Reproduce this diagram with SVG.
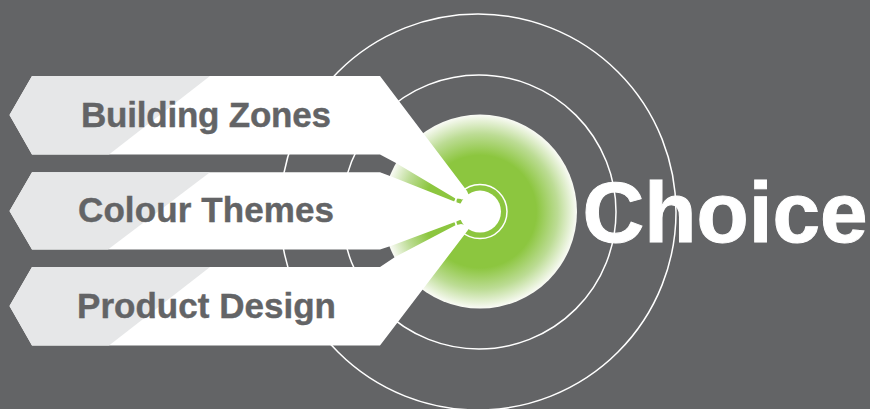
<svg xmlns="http://www.w3.org/2000/svg" width="870" height="409" viewBox="0 0 870 409">
<style>
.ring{fill:none;stroke:#fff;stroke-width:1.5}
.w{fill:#fff}
.l{fill:#e6e7e8}
text{font-family:"Liberation Sans",Arial,sans-serif;font-weight:700}
.lab{font-size:35px;fill:#636466;stroke:#636466;stroke-width:0.4;text-anchor:middle}
</style>
<defs>
<radialGradient id="g" cx="0.5" cy="0.5" r="0.5">
<stop offset="0" stop-color="#8cc63f"/>
<stop offset="0.58" stop-color="#8cc63f"/>
<stop offset="0.8" stop-color="#bcdc94"/>
<stop offset="1" stop-color="#fafbf6"/>
</radialGradient>
</defs>
<rect width="870" height="409" fill="#636466"/>
<g id="rings">
<circle class="ring" cx="478" cy="212" r="198"/>
<circle class="ring" cx="479" cy="212" r="137"/>
</g>
<g id="hub">
<circle cx="480" cy="211.6" r="97" fill="url(#g)"/>
<circle cx="480" cy="211.6" r="27" fill="none" stroke="#fff" stroke-width="1.5"/>
<circle class="w" cx="480" cy="211.6" r="21"/>
</g>
<g id="connectors">
<polygon class="w" points="455.2,198 456.3,197.8 456.6,202.5 455.4,202.5"/>
<polygon class="w" points="455.2,220 456.3,220 456.6,226 455.4,226"/>
</g>
<g id="building-zones">
<polygon class="w" points="32,76 380,76 467,191 470,198 461.5,199.5 461,199 455,198.3 396,163 380,154.5 32,154.5 9.5,115"/>
<polygon class="l" points="32,76 210,76 109,154.5 32,154.5 9.5,115"/>
<text class="lab" x="206" y="127" textLength="250">Building Zones</text>
</g>
<g id="colour-themes">
<polygon class="w" points="32,172.3 380,172.3 390,176 455,201.7 460,203.5 475,205 475,218 460,220 455,222 390.7,246 380,249.5 32,249.5 9.5,211"/>
<polygon class="l" points="32,172.3 210,172.3 108,249.5 32,249.5 9.5,211"/>
<text class="lab" x="206" y="221.5" textLength="256">Colour Themes</text>
</g>
<g id="product-design">
<polygon class="w" points="32,267 380,267 395,257 455,225.5 461,224 470,226 468,230 380,345.5 32,345.5 9.5,306"/>
<polygon class="l" points="32,267 210,267 109,345.5 32,345.5 9.5,306"/>
<text class="lab" x="206.5" y="317.5" textLength="259">Product Design</text>
</g>
<g id="choice">
<text x="582.5" y="241.5" font-size="85.5" fill="#fff" stroke="#fff" stroke-width="1">Choice</text>
</g>
</svg>
